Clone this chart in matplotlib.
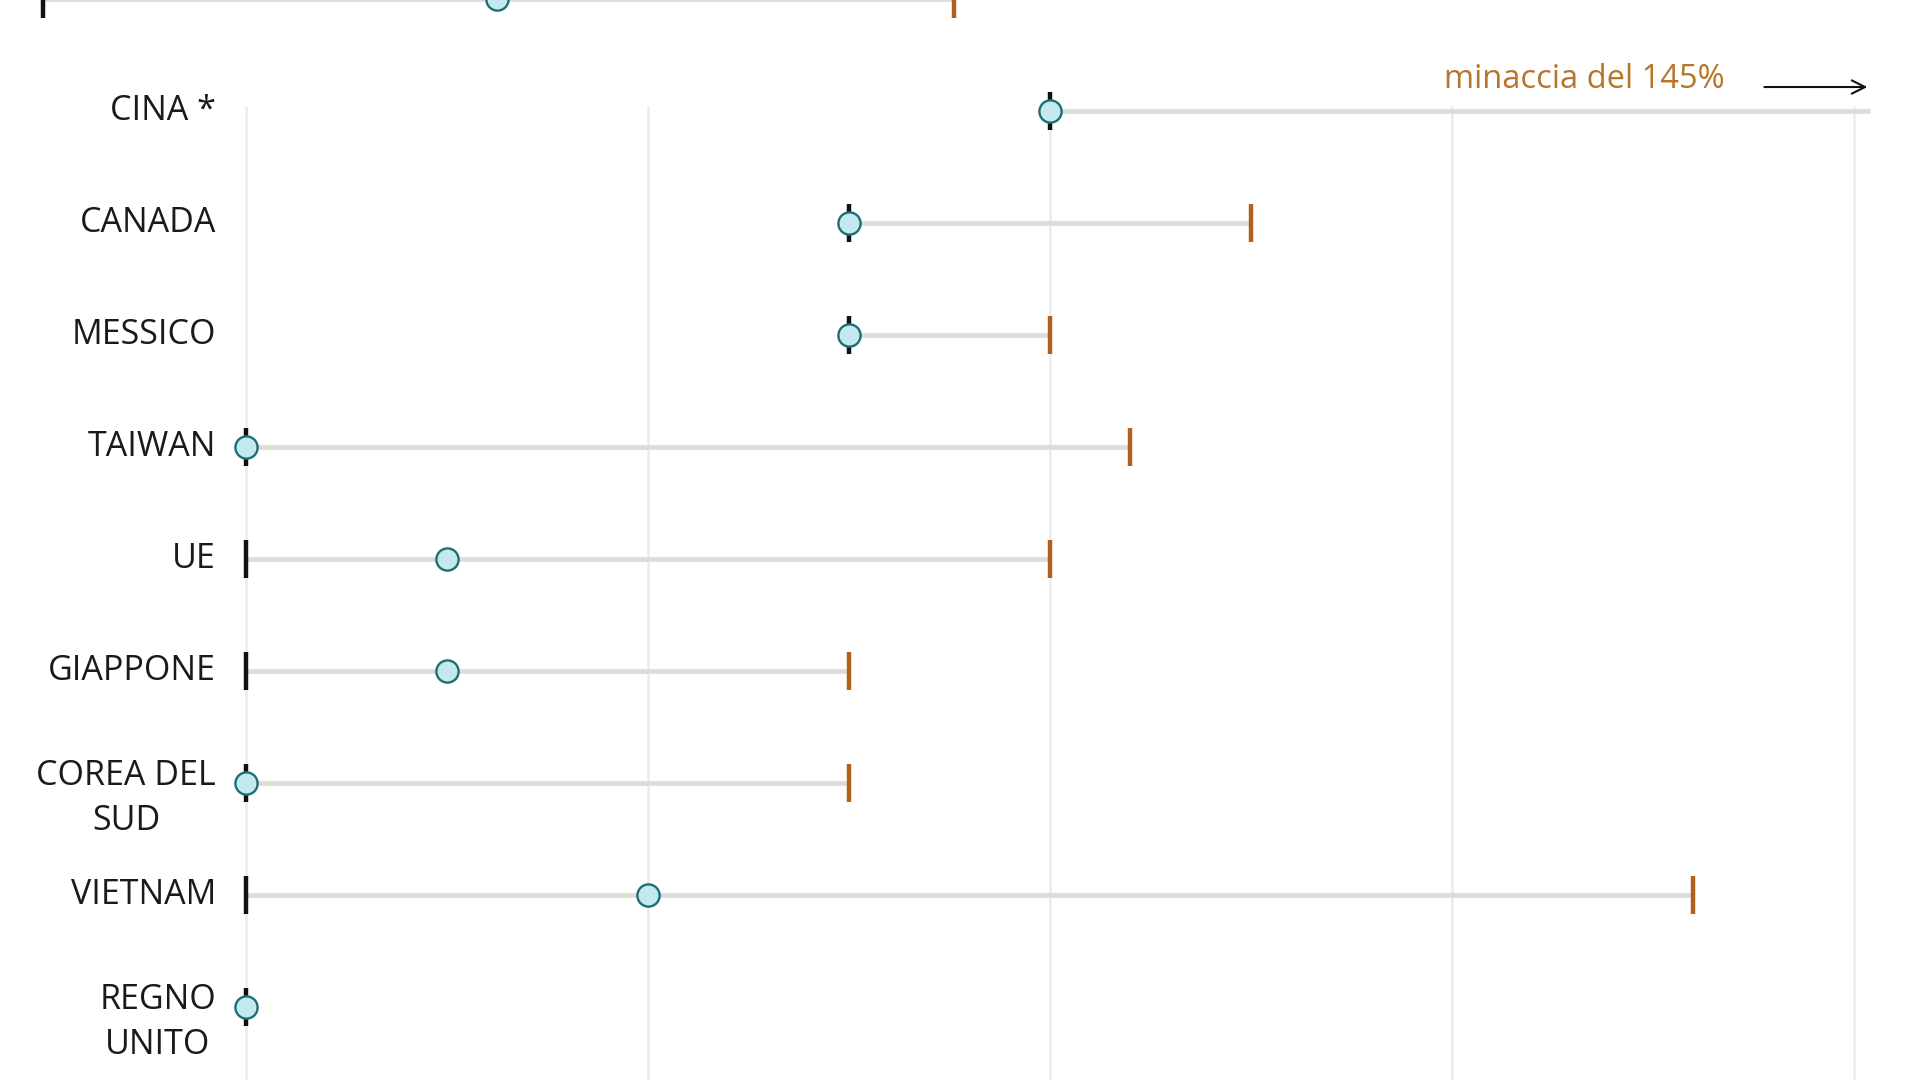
import numpy as np
import matplotlib.pyplot as plt

plt.rcParams['font.family'] = ['Open Sans', 'DejaVu Sans']

# data (tariff %, scale with gridlines every 10)
countries = ['CINA *', 'CANADA', 'MESSICO', 'TAIWAN', 'UE', 'GIAPPONE',
             'COREA DEL\nSUD', 'VIETNAM', 'REGNO\nUNITO']
before = [20, 15, 15, 0, 0, 0, 0, 0, 0]
current = [20, 15, 15, 0, 5, 5, 0, 10, 0]
threat = [145, 25, 20, 22, 20, 15, 15, 36, np.nan]
grid_ticks = [0, 10, 20, 30, 40]

# legend row at the very top (cut off in the original)
legend_before, legend_current, legend_threat = -5.05, 6.25, 17.6

black = '#111111'
orange = '#b0621c'
grey_line = '#dcdcdc'
grid_col = '#ebebeb'
dot_face = '#c4e8f0'
dot_edge = '#1f6e76'

xmin, xmax = -6.12, 41.64
x_cap = 40.4   # where the off-scale line stops

fig = plt.figure(figsize=(19.2, 10.8), dpi=100)
ax = fig.add_axes([0, 0, 1, 1])
ax.set_xlim(xmin, xmax)
ax.set_ylim(8.648, -0.995)
ax.axis('off')

# gridlines
ax.vlines(grid_ticks, -0.05, 9, color=grid_col, lw=1.8, zorder=0)


def draw_row(y, b, c, t):
    end = max(c, b) if np.isnan(t) else min(t, x_cap)
    ax.plot([b, end], [y, y], color=grey_line, lw=3.4, solid_capstyle='butt', zorder=1)
    ax.plot([b], [y], marker='|', ms=27, mew=3.2, color=black, zorder=2)
    if not np.isnan(t) and t <= x_cap:
        ax.plot([t], [y], marker='|', ms=27, mew=3.2, color=orange, zorder=2)
    ax.plot([c], [y], marker='o', ms=16, mfc=dot_face, mec=dot_edge, mew=1.7, zorder=3)


draw_row(-1, legend_before, legend_current, legend_threat)

for i, name in enumerate(countries):
    draw_row(i, before[i], current[i], threat[i])
    n = name.count('\n')
    ax.text(-0.75, i + 0.135 * n, name, ha='right', va='center', multialignment='center',
            fontsize=24.5, color='#1a1a1a', linespacing=1.4)

# annotation for the off-scale value
ax.text(36.77, -0.284, 'minaccia del %d%%' % threat[0], ha='right', va='center',
        fontsize=23.5, color='#b87428')
ax.annotate('', xy=(40.4, -0.218), xytext=(37.7, -0.218),
            arrowprops=dict(arrowstyle='->', color=black, lw=1.5, mutation_scale=24))

fig.savefig('out.png', dpi=100)
